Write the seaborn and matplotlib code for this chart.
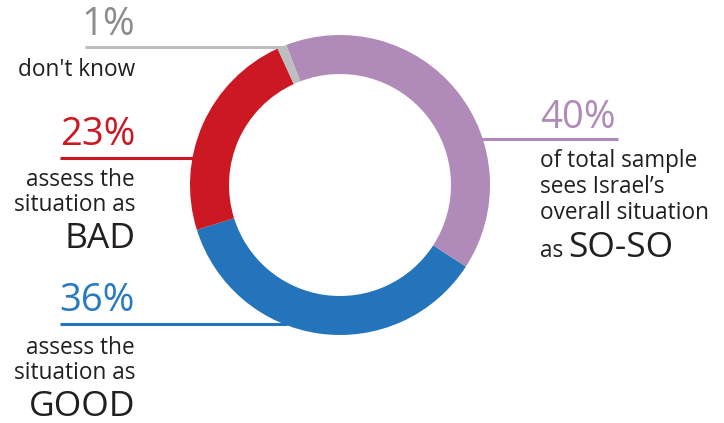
import matplotlib
matplotlib.use("Agg")
import matplotlib.pyplot as plt
import seaborn as sns
import numpy as np

# ---- data ----
categories = ["SO-SO", "GOOD", "BAD", "don't know"]
values = [40, 36, 23, 1]
pct_labels = ["40%", "36%", "23%", "1%"]
colors = ["#B08AB8", "#2474BC", "#CC1822", "#BDBEC0"]
pct_colors = ["#B08AB8", "#2A7AC2", "#CC1822", "#8C8C8E"]

sns.set_theme(style="white")
plt.rcParams['font.family'] = ['Open Sans', 'DejaVu Sans']

W, H = 724, 423
fig = plt.figure(figsize=(W / 100, H / 100), dpi=100)
fig.patch.set_facecolor("white")

# donut geometry (pixels)
cx, cy, R = 340, 185, 150
ax = fig.add_axes([(cx - R) / W, (H - cy - R) / H, 2 * R / W, 2 * R / H])
wedges, _ = ax.pie(values, colors=colors, startangle=111, counterclock=False,
                   radius=1.0, wedgeprops=dict(width=0.26, linewidth=0))
ax.set_xlim(-1, 1)
ax.set_ylim(-1, 1)
ax.set_aspect("equal")
ax.axis("off")

TXT = "#231F20"
PCT = 27.5
BODY = 16.3
BIG = 25.5

def fx(x):
    return x / W

def fy(y):
    return 1 - y / H

def ring_x(y, side):
    dy = y - cy
    dx = np.sqrt(max(R * R - dy * dy, 0))
    return cx + side * dx

def hline(x0, x1, y, color):
    fig.add_artist(plt.Line2D([fx(x0), fx(x1)], [fy(y), fy(y)], color=color,
                              lw=2.2, solid_capstyle="butt"))

def text(x, y, s, size, color=TXT, ha="right"):
    fig.text(fx(x), fy(y), s, fontsize=size, color=color, ha=ha, va="baseline")

# leader lines
hline(85, ring_x(47, -1) + 3, 47, "#BDBEC0")
hline(60, ring_x(158, -1) + 2, 158, colors[2])
hline(60, ring_x(324, -1) + 3, 324, colors[1])
hline(ring_x(139, 1) - 3, 618, 139, colors[0])

# left labels
text(135, 35, pct_labels[3], PCT, pct_colors[3])
text(135, 76, "don't know", BODY)

text(135, 145, pct_labels[2], PCT, pct_colors[2])
text(135, 186, "assess the", BODY)
text(135, 211, "situation as", BODY)
text(135, 248, "BAD", BIG)

text(135, 311, pct_labels[1], PCT, pct_colors[1])
text(135, 354, "assess the", BODY)
text(135, 379, "situation as", BODY)
text(135, 416, "GOOD", BIG)

# right labels
text(540, 128, pct_labels[0], PCT, pct_colors[0], ha="left")
text(540, 167, "of total sample", BODY, ha="left")
text(540, 193, "sees Israel\u2019s", BODY, ha="left")
text(540, 219, "overall situation", BODY, ha="left")
text(540, 257, "as", BODY, ha="left")
text(568, 257, "SO-SO", BIG, ha="left")

fig.savefig("out.png", dpi=100, facecolor="white")
